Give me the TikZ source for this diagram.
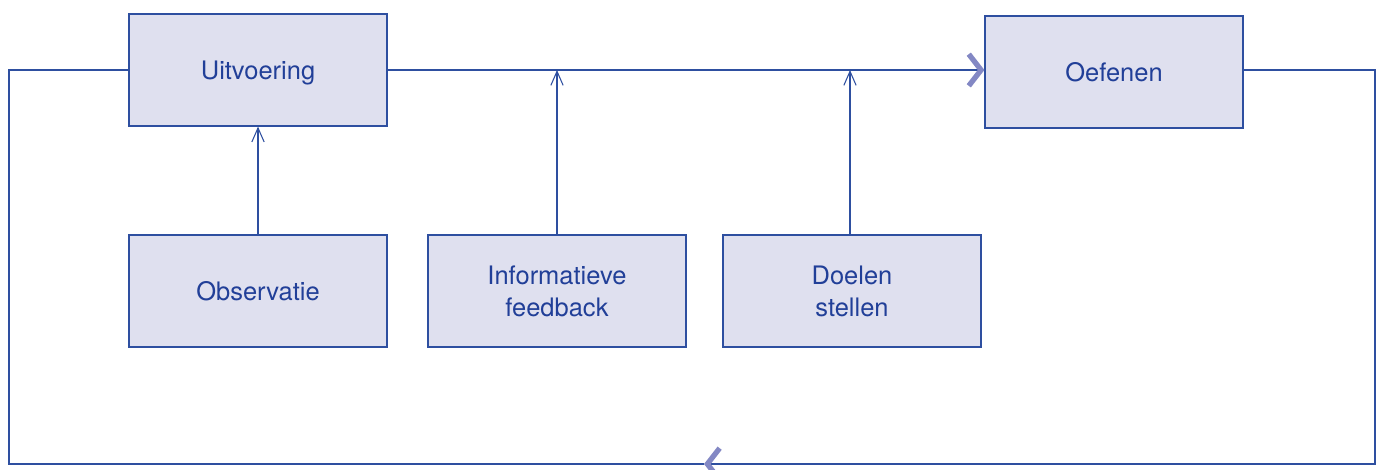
\documentclass[tikz,border=0pt]{standalone}
\usepackage{fontspec}
\setmainfont{TeX Gyre Heros}
\usetikzlibrary{arrows.meta}
\definecolor{lijn}{HTML}{2E4FA0}
\definecolor{vak}{HTML}{DFE0EF}
\definecolor{punt}{HTML}{8388C4}
\definecolor{tekst}{HTML}{213F98}

\begin{document}
\begin{tikzpicture}[x=0.02cm,y=-0.02cm,
	box/.style={draw=lijn,fill=vak,line width=0.7pt,minimum width=5.16cm,minimum height=2.24cm,
		text=tekst,align=center,font=\fontsize{14.5}{18}\selectfont,inner sep=0pt,text depth=0pt},
	pijl/.style={draw=lijn,line width=0.7pt,-{Straight Barb[length=8pt,width=7pt,line width=0.6pt]}},
	punt/.style={draw=lijn,line width=0.7pt,-{Straight Barb[length=7pt,width=18pt,line width=3pt,color=punt]}}]
	\useasboundingbox (0,0) rectangle (1380,470);
	% nodes
	\node[box] (uitv) at (258,70) {Uitvoering};
	\node[box] (oef) at (1114,72) {Oefenen};
	\node[box] (obs) at (258,291) {Observatie};
	\node[box] (info) at (557,291) {Informatieve\\feedback};
	\node[box] (doel) at (852,291) {Doelen\\stellen};
	\coordinate (hoek) at (1375,464);
	\coordinate (terug) at (704,464);
	\coordinate (links) at (9,464);

	%lines
	\draw[punt] (uitv.east) -- (uitv.east -| oef.west);
	\draw[pijl] (obs.north) -- (uitv.south);
	\draw[pijl] (info.north) -- (info.north |- uitv.east);
	\draw[pijl] (doel.north -| 850,0) -- (850,0 |- uitv.east);
	\draw[punt] (uitv.east -| oef.east) -| (hoek) -- (terug);
	\draw[draw=lijn,line width=0.7pt] (terug) -- (links) |- (uitv.west);
\end{tikzpicture}
\end{document}
